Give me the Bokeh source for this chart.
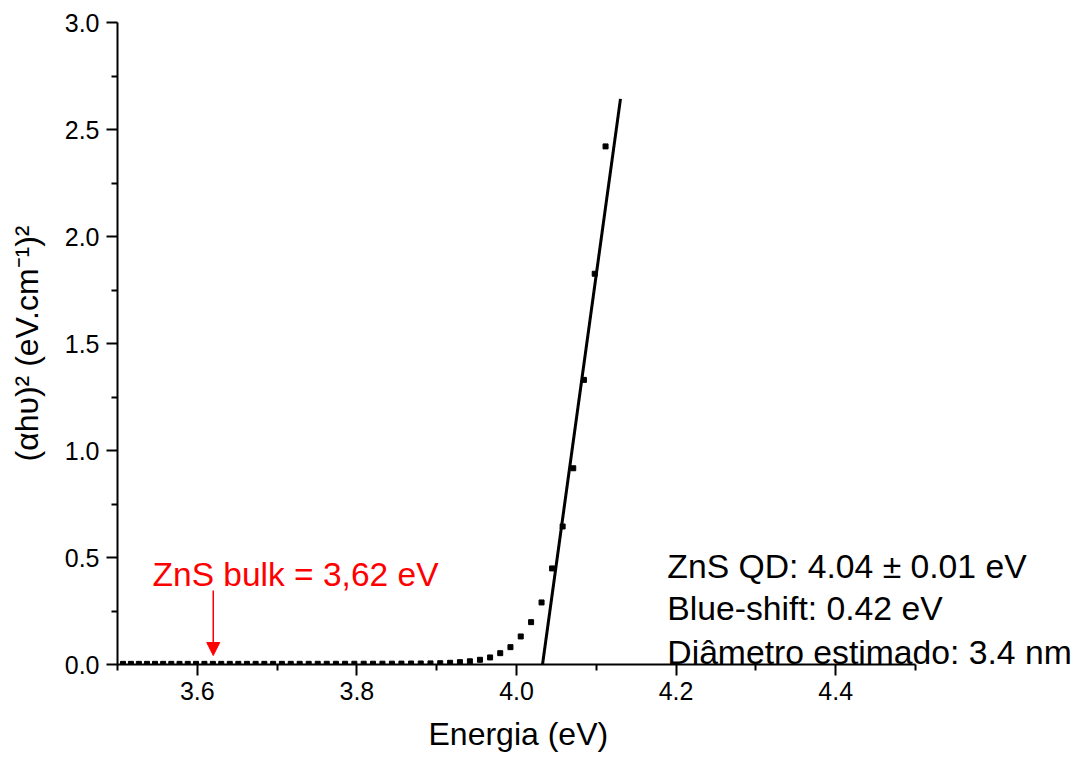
from bokeh.plotting import figure
from bokeh.models import Range1d, FixedTicker, NumeralTickFormatter, Label, Arrow, NormalHead, Title
from bokeh.embed import file_html
from bokeh.resources import INLINE

# ---- data ----
energy = [4.1116, 4.0980, 4.0845, 4.0711, 4.0578, 4.0446, 4.0314, 4.0183, 4.0053, 3.9924,
          3.9796, 3.9669, 3.9542, 3.9416, 3.9291, 3.9168, 3.9044, 3.8922, 3.8800, 3.8679,
          3.8558, 3.8439, 3.8320, 3.8202, 3.8085, 3.7968, 3.7852, 3.7737, 3.7622, 3.7509,
          3.7396, 3.7283, 3.7171, 3.7060, 3.6950, 3.6840, 3.6731, 3.6622, 3.6514, 3.6407,
          3.6300, 3.6195, 3.6089, 3.5984, 3.5880, 3.5777, 3.5674, 3.5572, 3.5470, 3.5369,
          3.5268, 3.5168, 3.5069]
absorb = [2.421, 1.826, 1.330, 0.917, 0.645, 0.449, 0.290, 0.198, 0.131, 0.081,
          0.053, 0.033, 0.022, 0.015, 0.011, 0.008, 0.006, 0.0052, 0.0048, 0.0045,
          0.0042, 0.0040, 0.0038, 0.0037, 0.0036, 0.0035, 0.0034, 0.0034, 0.0033, 0.0033,
          0.0032, 0.0032, 0.0031, 0.0031, 0.0031, 0.0030, 0.0030, 0.0030, 0.0030, 0.0030,
          0.0030, 0.0030, 0.0030, 0.0030, 0.0030, 0.0030, 0.0030, 0.0030, 0.0030, 0.0030,
          0.0030, 0.0030, 0.0030]
fit_x = [4.0326, 4.1303]
fit_y = [0.0, 2.643]
bulk_gap = 3.62

x_major = [3.6, 3.8, 4.0, 4.2, 4.4]
x_minor = [3.5, 3.7, 3.9, 4.1, 4.3, 4.5]
y_major = [0.0, 0.5, 1.0, 1.5, 2.0, 2.5, 3.0]
y_minor = [0.25, 0.75, 1.25, 1.75, 2.25, 2.75]

info_lines = ["ZnS QD: 4.04 \u00b1 0.01 eV", "Blue-shift: 0.42 eV", "Di\u00e2metro estimado: 3.4 nm"]
bulk_text = "ZnS bulk = 3,62 eV"

FONT = "Liberation Sans"

# frame extends to the right edge so the text annotations are not clipped;
# the x axis itself is bounded to 3.5-4.5
p = figure(width=1079, height=766, x_range=Range1d(3.5, 4.703), y_range=Range1d(0, 3.0),
           output_backend="svg", toolbar_location=None,
           min_border_left=117, min_border_right=2, min_border_top=22, min_border_bottom=102)
p.xgrid.visible = False
p.ygrid.visible = False
p.outline_line_color = None
p.background_fill_color = "white"
p.border_fill_color = "white"

for ax in (p.xaxis[0], p.yaxis[0]):
    ax.axis_line_width = 2
    ax.axis_line_color = "black"
    ax.major_tick_line_width = 2
    ax.minor_tick_line_width = 2
    ax.major_tick_line_color = "black"
    ax.minor_tick_line_color = "black"
    ax.major_tick_in = 0
    ax.major_tick_out = 11
    ax.minor_tick_in = 0
    ax.minor_tick_out = 6
    ax.major_label_text_font = FONT
    ax.major_label_text_font_size = "25px"
    ax.major_label_text_color = "black"
    ax.axis_label_text_font = FONT
    ax.axis_label_text_font_size = "32px"
    ax.axis_label_text_font_style = "normal"
    ax.axis_label_text_color = "black"
    ax.formatter = NumeralTickFormatter(format="0.0")

p.xaxis[0].bounds = (3.5, 4.5)
p.xaxis[0].ticker = FixedTicker(ticks=x_major, minor_ticks=x_minor)
p.yaxis[0].ticker = FixedTicker(ticks=y_major, minor_ticks=y_minor)
p.yaxis[0].axis_label = "(\u03b1h\u03c5)\u00b2 (eV.cm\u207b\u00b9)\u00b2"
p.xaxis[0].major_label_standoff = 6
p.yaxis[0].major_label_standoff = 7
p.yaxis[0].axis_label_standoff = 17

# x-axis title, centred under the 3.5-4.5 axis (not the wider frame)
p.add_layout(Title(text="Energia (eV)", align="left", offset=311, standoff=23,
                   text_font=FONT, text_font_size="32px", text_font_style="normal",
                   text_color="black"), "below")

p.scatter(energy, absorb, marker="square", size=5, color="black")
p.line(fit_x, fit_y, line_width=3, color="black")

p.add_layout(Arrow(end=NormalHead(size=13, fill_color="red", line_color="red"),
                   x_start=bulk_gap, y_start=0.346, x_end=bulk_gap, y_end=0.042,
                   line_color="red", line_width=1.5))
p.add_layout(Label(x=3.544, y=0.42, text=bulk_text, text_color="red", text_font=FONT,
                   text_font_size="33.5px", text_baseline="alphabetic"))
for txt, yy in zip(info_lines, [0.4626, 0.2617, 0.0607]):
    p.add_layout(Label(x=4.189, y=yy, text=txt, text_color="black", text_font=FONT,
                       text_font_size="33.7px", text_baseline="alphabetic"))

open("out.html", "w").write(file_html(p, INLINE))
